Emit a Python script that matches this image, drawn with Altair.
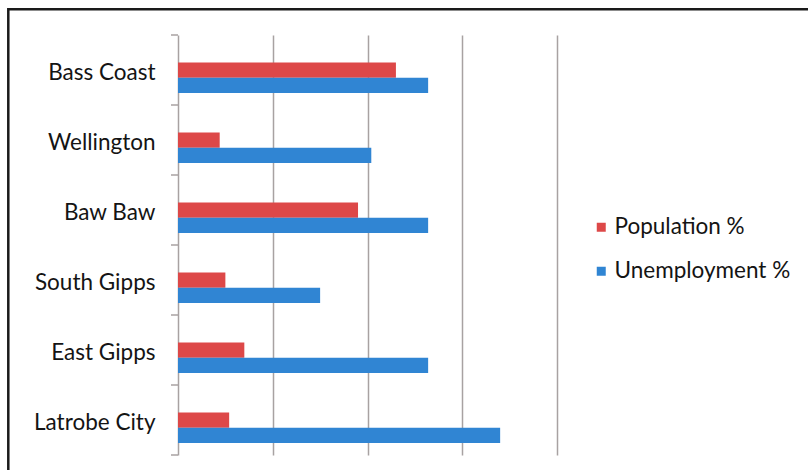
import altair as alt
import pandas as pd

# Gippsland regions, top to bottom
regions = ["Bass Coast", "Wellington", "Baw Baw", "South Gipps", "East Gipps", "Latrobe City"]
population_pct = [11.5, 2.2, 9.5, 2.5, 3.5, 2.7]
unemployment_pct = [13.2, 10.2, 13.2, 7.5, 13.2, 17.0]
series = ["Population %", "Unemployment %"]
series_colors = ["#dd4848", "#3085d3"]
x_grid = [0, 5, 10, 15, 20]
band_edges = list(range(len(regions) + 1))

rows = []
for r, p, u in zip(regions, population_pct, unemployment_pct):
    rows.append({"region": r, "series": series[0], "value": p})
    rows.append({"region": r, "series": series[1], "value": u})
df = pd.DataFrame(rows)

W, H = 379, 420
FONT = "Lato"
TEXT = "#141414"
GRID = "#a8a2a2"

bars = alt.Chart(df).mark_bar().encode(
    x=alt.X(
        "value:Q",
        scale=alt.Scale(domain=[x_grid[0], x_grid[-1]], nice=False),
        axis=alt.Axis(values=x_grid, labels=False, ticks=False, domain=False,
                      grid=True, gridColor=GRID, gridWidth=1.5, title=None),
    ),
    y=alt.Y(
        "region:N", sort=regions,
        scale=alt.Scale(paddingInner=0, paddingOuter=0),
        axis=alt.Axis(title=None, ticks=False, domain=False, labelFont=FONT,
                      labelFontSize=22.5, labelColor=TEXT, labelPadding=23,
                      labelOffset=3),
    ),
    yOffset=alt.YOffset(
        "series:N", sort=series,
        scale=alt.Scale(range=[27.5, 58], paddingInner=0, paddingOuter=0),
    ),
    color=alt.Color(
        "series:N", sort=series,
        scale=alt.Scale(domain=series, range=series_colors),
        legend=alt.Legend(orient="none", legendX=412, legendY=181, title=None,
                          symbolType="square", symbolSize=81, symbolStrokeWidth=0,
                          labelFont=FONT, labelFontSize=22.5, labelColor=TEXT,
                          labelLimit=400, rowPadding=21, labelOffset=2, padding=0),
    ),
)

# small ticks on the category axis, at the band boundaries
edge_ticks = alt.Chart(pd.DataFrame({"edge": band_edges})).mark_rule(
    color=GRID, strokeWidth=1.5
).encode(
    y=alt.Y("edge:Q", scale=alt.Scale(domain=[band_edges[0], band_edges[-1]],
                                      nice=False, zero=False), axis=None),
    x=alt.value(-7),
    x2=alt.value(0),
)

# outer frame around the figure
frame = alt.Chart(pd.DataFrame({"k": [0]})).mark_rect(
    fillOpacity=0, stroke="#1a1a1a", strokeWidth=2.5
).encode(
    x=alt.value(-169.7), x2=alt.value(W + 300),
    y=alt.value(-25.7), y2=alt.value(H + 100),
)

chart = (
    alt.layer(frame, edge_ticks, bars)
    .resolve_scale(y="independent")
    .properties(
        width=W, height=H,
        padding={"left": 178, "top": 35, "right": 808 - 178 - W, "bottom": 470 - 35 - H},
        autosize=alt.AutoSizeParams(type="none"),
        background="white",
    )
    .configure_view(stroke=None)
)

chart.save("out.html", embed_options={"renderer": "svg", "actions": False})
